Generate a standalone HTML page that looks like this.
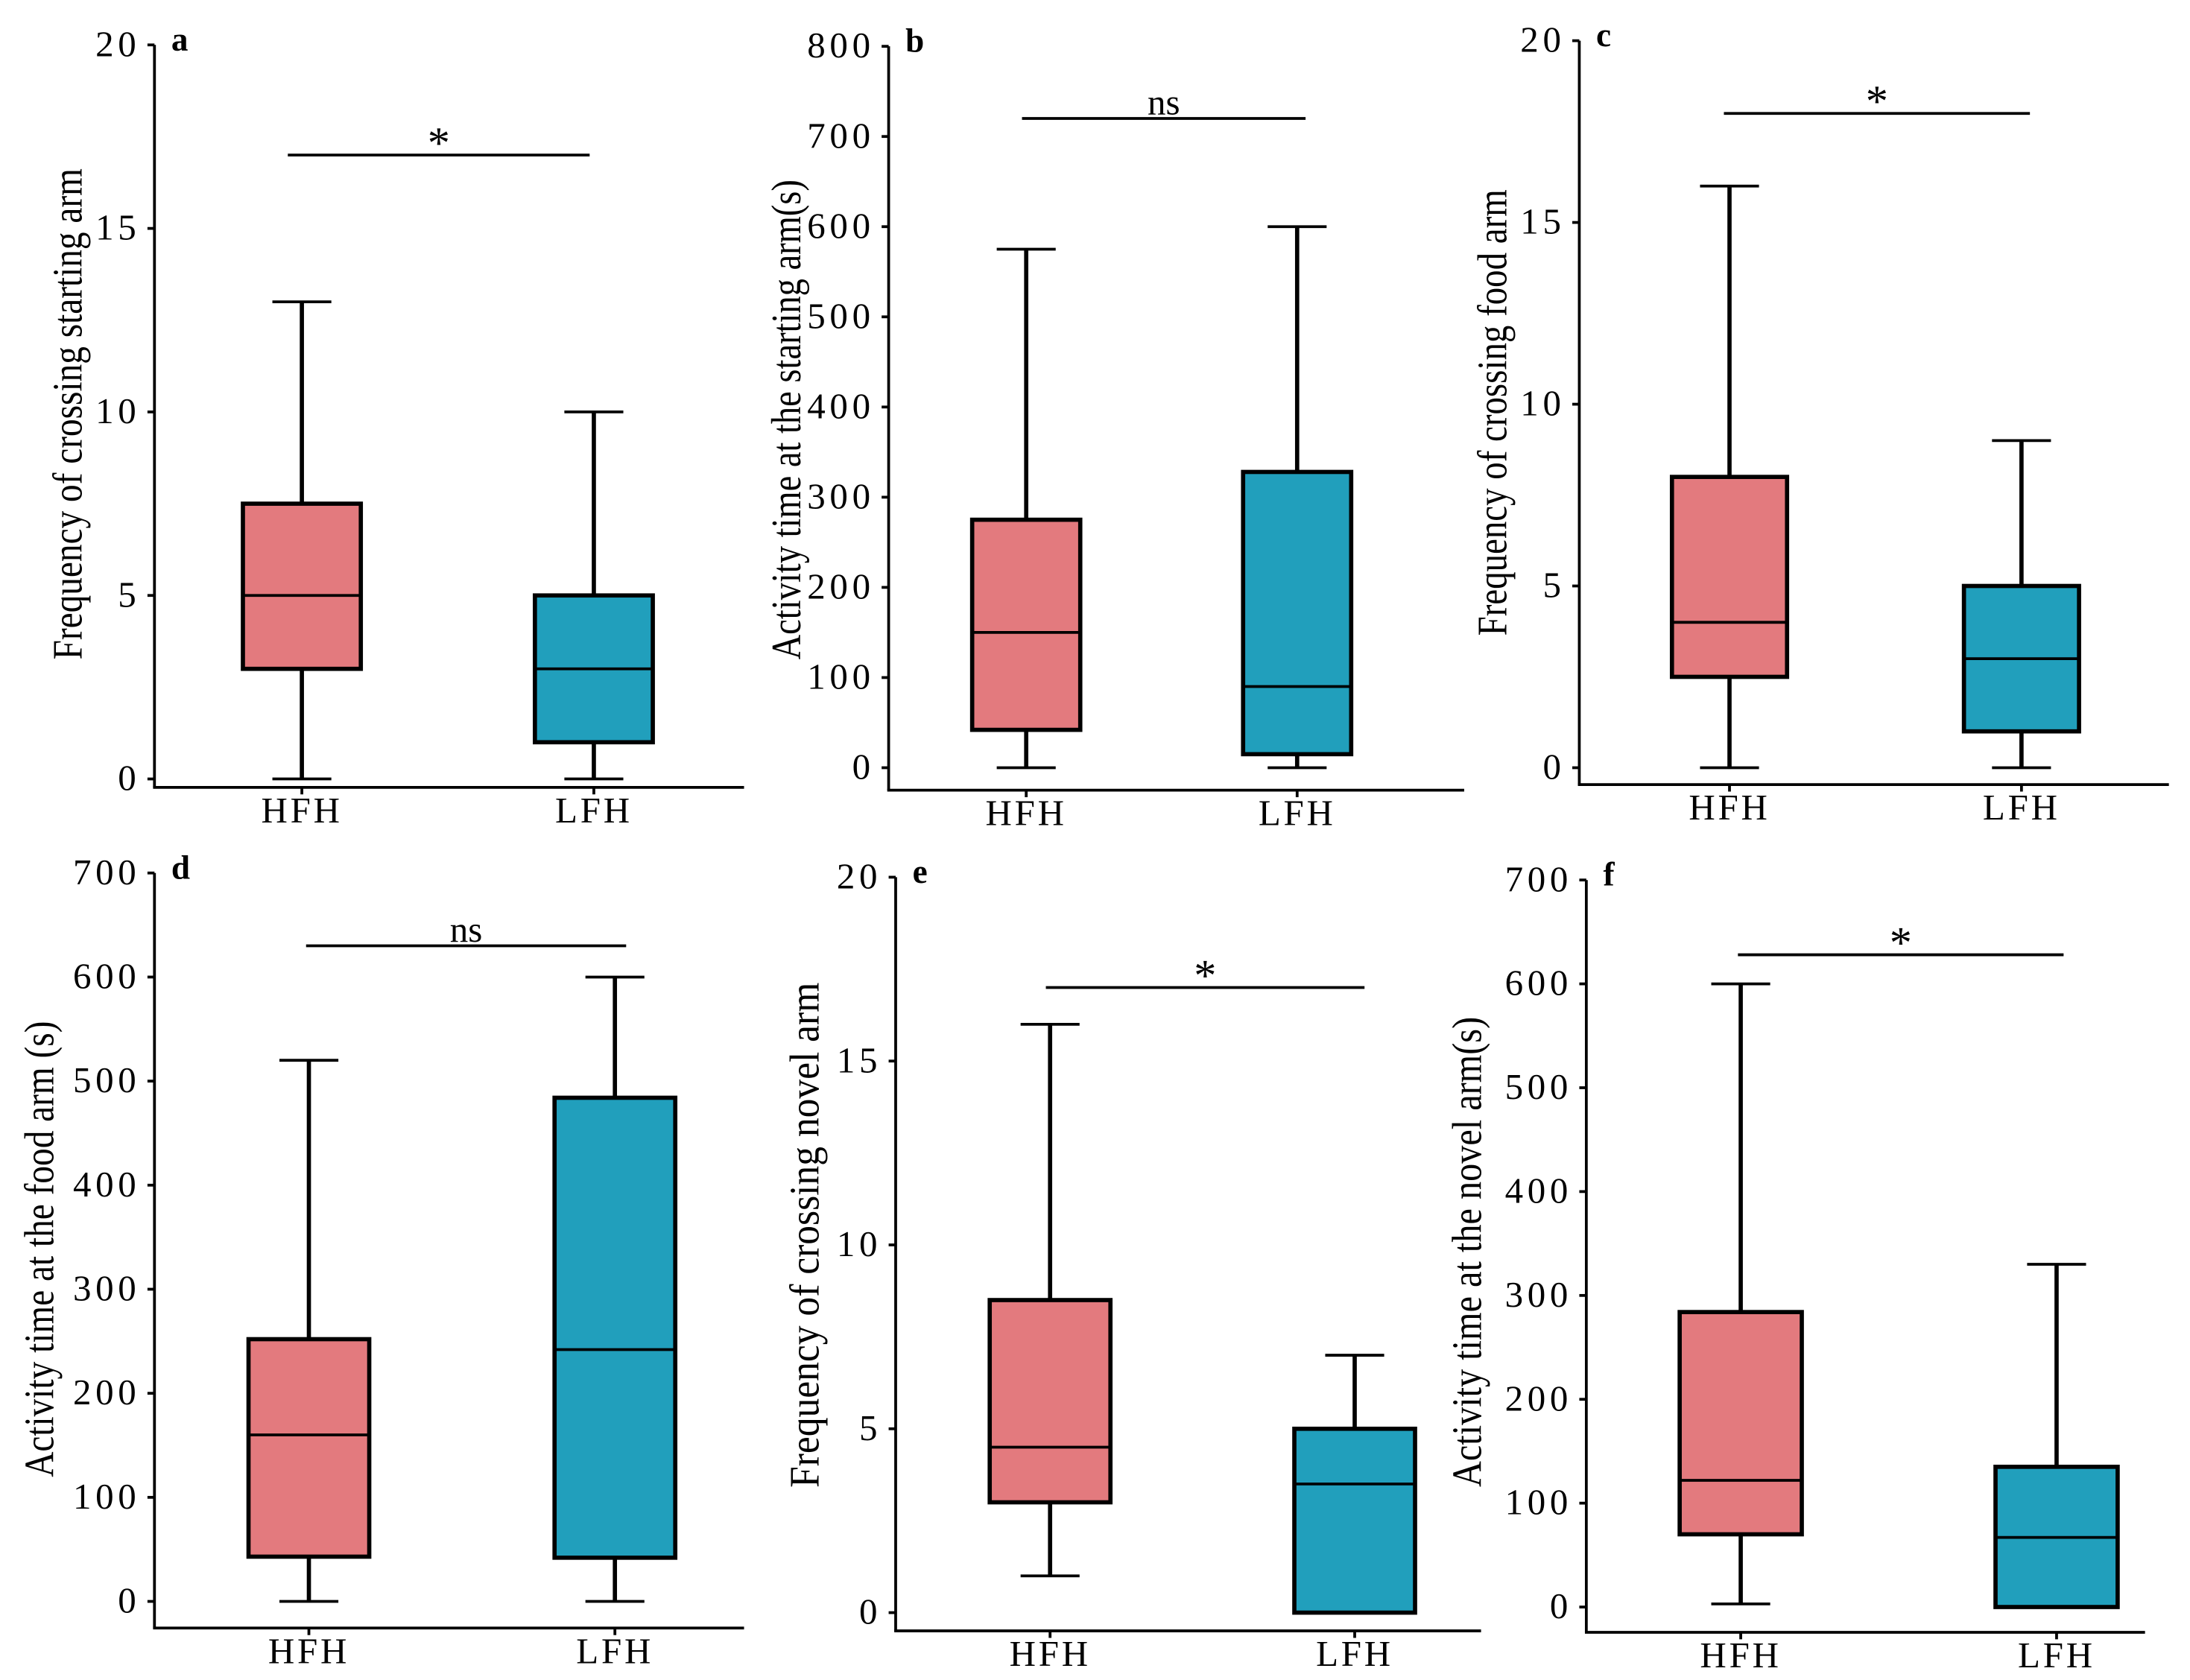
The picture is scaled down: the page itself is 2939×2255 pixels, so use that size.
<!DOCTYPE html>
<html><head><meta charset="utf-8"><style>
html,body{margin:0;padding:0;background:#fff;}
svg{display:block;}
text{font-family:"Liberation Serif",serif;fill:#000;}
</style></head><body>
<svg id="chart" width="2939" height="2255" viewBox="0 0 1560 1197" xmlns="http://www.w3.org/2000/svg"></svg>
<script>
const categories = ["HFH","LFH"];
const panelLetters = ["a","b","c","d","e","f"];
const yTitles = ["Frequency of crossing starting arm","Activity time at the starting arm(s)","Frequency of crossing food arm","Activity time at the food arm (s)","Frequency of crossing novel arm","Activity time at the novel arm(s)"];
const yMaxes = [20,800,20,700,20,700];
const yTickStep = [5,100,5,100,5,100];
// [min, q1, median, q3, max] for HFH and LFH per panel
const hfhStats = [[0,3,5,7.5,13],[0,42,150,275,575],[0,2.5,4,8,16],[0,43,160,252,520],[1,3,4.5,8.5,16],[3,70,122,284,600]];
const lfhStats = [[0,1,3,5,10],[0,15,90,328,600],[0,1,3,5,9],[0,42,242,484,600],[0,0,3.5,5,7],[0,0,67,135,330]];
const sigLabels = ["*","ns","*","ns","*","*"];
const sigValues = [17,720,18,630,17,628];

const L = [
 {ax:110,top:32,zero:555,xb:561,xe:530,c:[215,423],bw:84,sx:[205,420],tx:48,ty:295,tl:350},
 {ax:633,top:33,zero:547,xb:563,xe:1043,c:[731,924],bw:77,sx:[728,930],tx:560,ty:299,tl:342},
 {ax:1125,top:29,zero:547,xb:559,xe:1545,c:[1232,1440],bw:82,sx:[1228,1446],tx:1063,ty:294,tl:318},
 {ax:110,top:622,zero:1141,xb:1160,xe:530,c:[220,438],bw:86,sx:[218,446],tx:28,ty:890,tl:325},
 {ax:638,top:625,zero:1149,xb:1162,xe:1055,c:[748,965],bw:86,sx:[745,972],tx:573,ty:880,tl:360},
 {ax:1130,top:627,zero:1145,xb:1163,xe:1528,c:[1240,1465],bw:87,sx:[1238,1470],tx:1045,ty:892,tl:335}
];
const colors = ["#e37a7e","#219fbc"];
const NS="http://www.w3.org/2000/svg";
const svg=document.getElementById('chart');
function mk(tag,attrs,parent){const e=document.createElementNS(NS,tag);for(const k in attrs)e.setAttribute(k,attrs[k]);(parent||svg).appendChild(e);return e;}

for(let p=0;p<6;p++){
  const l=L[p];
  const g=mk('g',{});
  
  
  const y=v=>l.zero-(v/yMaxes[p])*(l.zero-l.top);
  const ya=mk('line',{x1:l.ax,y1:l.top,x2:l.ax,y2:l.xb,stroke:'#000','stroke-width':2},g);
  
  
  const xa=mk('line',{x1:l.ax-1,y1:l.xb,x2:l.xe,y2:l.xb,stroke:'#000','stroke-width':2},g);
  
  
  for(let v=0;v<=yMaxes[p];v+=yTickStep[p]){
    mk('line',{x1:l.ax-5,y1:y(v),x2:l.ax,y2:y(v),stroke:'#000','stroke-width':2},g);
    const t=mk('text',{x:l.ax-10,y:y(v)+8,'text-anchor':'end','font-size':26,'letter-spacing':3},g);
    t.textContent=v;
    
    
  }
  const pl=mk('text',{x:l.ax+12,y:l.top+4,'font-size':24,'font-weight':'bold'},g);
  pl.textContent=panelLetters[p];
  
  
  const yt=mk('text',{x:0,y:0,'text-anchor':'middle','font-size':30,transform:`translate(${l.tx+10},${l.ty}) rotate(-90)`,textLength:l.tl,lengthAdjust:'spacingAndGlyphs'},g);
  yt.textContent=yTitles[p];
  
  
  const stats=[hfhStats[p],lfhStats[p]];
  for(let i=0;i<2;i++){
    const cx=l.c[i],s=stats[i],hw=l.bw/2,cw=21;
    mk('line',{x1:cx,y1:l.xb,x2:cx,y2:l.xb+5,stroke:'#000','stroke-width':2},g);
    const cl=mk('text',{x:cx,y:l.xb+25,'text-anchor':'middle','font-size':26,'letter-spacing':2},g);
    cl.textContent=categories[i];
    
    
    const w=mk('line',{x1:cx,y1:y(s[0]),x2:cx,y2:y(s[4]),stroke:'#000','stroke-width':3},g);
    
    
    mk('line',{x1:cx-cw,y1:y(s[0]),x2:cx+cw,y2:y(s[0]),stroke:'#000','stroke-width':2},g);
    mk('line',{x1:cx-cw,y1:y(s[4]),x2:cx+cw,y2:y(s[4]),stroke:'#000','stroke-width':2},g);
    const b=mk('rect',{x:cx-hw,y:y(s[3]),width:l.bw,height:Math.max(0,y(s[1])-y(s[3])),fill:colors[i],stroke:'#000','stroke-width':3},g);
    
    
    const m=mk('line',{x1:cx-hw,y1:y(s[2]),x2:cx+hw,y2:y(s[2]),stroke:'#000','stroke-width':2},g);
    
    
  }
  const sl=mk('line',{x1:l.sx[0],y1:y(sigValues[p]),x2:l.sx[1],y2:y(sigValues[p]),stroke:'#000','stroke-width':2},g);
  
  
  const isStar=sigLabels[p]==='*';
  const st=mk('text',{x:(l.sx[0]+l.sx[1])/2,y:y(sigValues[p])+(isStar?2:-3),'text-anchor':'middle','font-size':isStar?32:26},g);
  st.textContent=sigLabels[p];
  
  
}
</script>
</body></html>
